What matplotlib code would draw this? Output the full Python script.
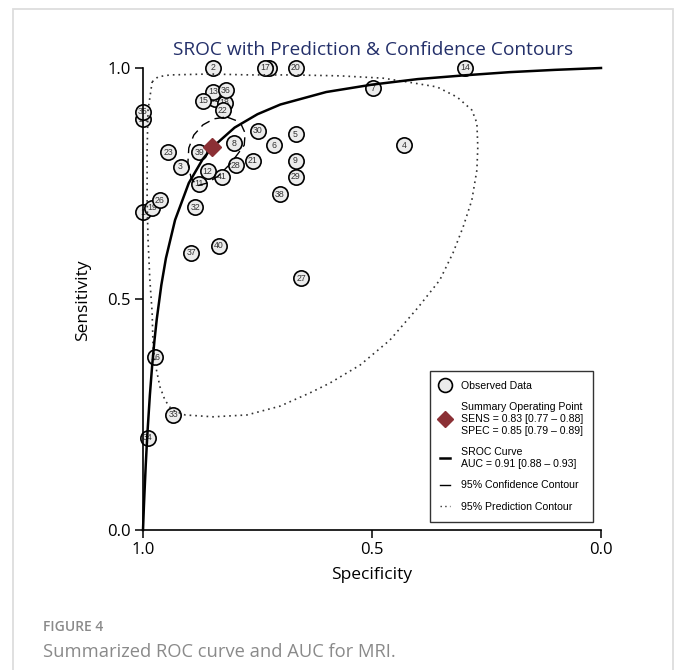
import matplotlib.pyplot as plt
from matplotlib.lines import Line2D
from matplotlib.patches import Rectangle

# Study-level estimates (specificity, sensitivity) with study number,
# listed back to front so overlapping circles stack the same way
study_ids = ['10', '31', '18', '24', '1', '2', '17', '20', '14', '7', '13', '36', '15',
             '22', '35', '30', '5', '8', '6', '4', '23', '39', '21', '9', '3',
             '28', '12', '41', '29', '11', '38', '19', '26', '32', '40',
             '37', '27', '16', '33', '34']
study_spec = [0.724, 0.843, 0.822, 1.0, 1.0, 0.848, 0.734, 0.667, 0.297, 0.498, 0.847,
              0.819, 0.868, 0.826, 1.0, 0.750, 0.667, 0.801, 0.714, 0.430, 0.945,
              0.877, 0.760, 0.667, 0.918, 0.798, 0.859, 0.827, 0.667, 0.877, 0.701,
              0.980, 0.963, 0.886, 0.835, 0.895, 0.654, 0.974, 0.934, 0.990]
study_sens = [1.0, 0.932, 0.925, 0.889, 0.688, 1.0, 1.0, 1.0, 1.0, 0.956, 0.949,
              0.952, 0.929, 0.909, 0.905, 0.864, 0.857, 0.837, 0.833, 0.833, 0.818,
              0.818, 0.799, 0.799, 0.786, 0.789, 0.777, 0.765, 0.765, 0.750, 0.727,
              0.698, 0.714, 0.699, 0.615, 0.600, 0.545, 0.374, 0.250, 0.200]

# Summary operating point
summary_spec = 0.85
summary_sens = 0.83

# SROC curve
sroc_spec = [1.0, 0.999, 0.998, 0.997, 0.994, 0.992, 0.99, 0.985, 0.98, 0.975,
             0.97, 0.96, 0.95, 0.93, 0.9, 0.87, 0.85, 0.8, 0.75, 0.7,
             0.6, 0.5, 0.4, 0.3, 0.2, 0.1, 0.0]
sroc_sens = [0.0, 0.026, 0.052, 0.075, 0.141, 0.179, 0.215, 0.292, 0.356, 0.410,
             0.456, 0.530, 0.588, 0.671, 0.751, 0.802, 0.827, 0.871, 0.900, 0.921,
             0.948, 0.964, 0.976, 0.984, 0.991, 0.996, 1.0]

# 95% confidence contour
conf_spec = [0.817, 0.788, 0.777, 0.779, 0.793, 0.810, 0.836, 0.860, 0.882, 0.895,
             0.902, 0.900, 0.889, 0.869, 0.845, 0.817]
conf_sens = [0.894, 0.883, 0.859, 0.833, 0.814, 0.792, 0.766, 0.751, 0.745, 0.762,
             0.794, 0.827, 0.855, 0.877, 0.890, 0.894]

# 95% prediction contour
pred_spec = [0.980, 0.967, 0.941, 0.854, 0.766, 0.672, 0.570, 0.476, 0.424, 0.358,
             0.314, 0.282, 0.271, 0.269, 0.271, 0.282, 0.301, 0.323, 0.352, 0.400,
             0.461, 0.526, 0.592, 0.635, 0.701, 0.773, 0.847, 0.908, 0.937, 0.952,
             0.963, 0.972, 0.978, 0.980, 0.985, 0.989, 0.991, 0.991, 0.989, 0.980]
pred_sens = [0.970, 0.981, 0.985, 0.987, 0.985, 0.985, 0.983, 0.978, 0.970, 0.959,
             0.937, 0.909, 0.881, 0.829, 0.779, 0.714, 0.656, 0.600, 0.541, 0.481,
             0.411, 0.357, 0.318, 0.297, 0.268, 0.249, 0.245, 0.249, 0.260, 0.281,
             0.310, 0.353, 0.396, 0.470, 0.541, 0.628, 0.714, 0.823, 0.909, 0.970]

ticks = [1.0, 0.5, 0.0]
tick_labels = ['1.0', '0.5', '0.0']

W, H = 677, 670
fig = plt.figure(figsize=(W / 100, H / 100), dpi=100)
ax = fig.add_axes([143 / W, 140 / H, 458 / W, 462 / H])

# panel frame
fig.patches.append(Rectangle((13 / W, -0.1), (673 - 13) / W, (H - 9) / H + 0.1,
                             transform=fig.transFigure, fill=False,
                             edgecolor='#dddddd', lw=1.3))

ax.plot(pred_spec, pred_sens, color='#333333', lw=1.2, linestyle=(0, (1, 2.4)),
        zorder=4, clip_on=False)
ax.plot(conf_spec, conf_sens, color='black', lw=1.0, linestyle=(0, (7, 4)), zorder=4)

# each study circle drawn with its own number so later ones cover earlier ones
for i, (lab, x, y) in enumerate(zip(study_ids, study_spec, study_sens)):
    z = 3 + i * 0.01
    ax.plot([x], [y], marker='o', markersize=11, markerfacecolor='#ececec',
            markeredgecolor='black', markeredgewidth=1.2, linestyle='none',
            zorder=z, clip_on=False)
    ax.text(x, y, lab, fontsize=6.3, ha='center', va='center', color='#333333',
            family='Liberation Sans', zorder=z + 0.005, clip_on=False)

ax.plot(sroc_spec, sroc_sens, color='black', lw=1.8, zorder=5, clip_on=False)
ax.plot([summary_spec], [summary_sens], marker='D', markersize=9, color='#8b3035',
        linestyle='none', zorder=6)

ax.set_xlim(1.0, 0.0)
ax.set_ylim(0.0, 1.0)
ax.set_xticks(ticks)
ax.set_xticklabels(tick_labels)
ax.set_yticks(ticks)
ax.set_yticklabels(tick_labels)
ax.tick_params(length=6, width=1.1, pad=3, labelsize=12)
for lab in ax.get_xticklabels() + ax.get_yticklabels():
    lab.set_family('Open Sans')
for side in ['top', 'right']:
    ax.spines[side].set_visible(False)
for side in ['left', 'bottom']:
    ax.spines[side].set_linewidth(1.2)
    ax.spines[side].set_zorder(5)
ax.set_facecolor('none')

fig.text(373 / W, 1 - 50 / H, 'SROC with Prediction & Confidence Contours',
         fontsize=13.8, color='#24306a', ha='center', va='center', family='Open Sans')
fig.text(372 / W, 1 - 575 / H, 'Specificity', fontsize=12.5, ha='center',
         va='center', family='Open Sans')
fig.text(83 / W, 1 - 300 / H, 'Sensitivity', fontsize=12.5, ha='center',
         va='center', rotation=90, family='Open Sans')

handles = [
    Line2D([], [], marker='o', markersize=10, markerfacecolor='#ececec',
           markeredgecolor='black', markeredgewidth=1.2, linestyle='none'),
    Line2D([], [], marker='D', markersize=8, color='#8b3035', linestyle='none'),
    Line2D([], [], color='black', lw=1.8),
    Line2D([], [], color='black', lw=1.0),
    Line2D([], [], color='#333333', lw=1.0, linestyle=(0, (1, 2.4))),
]
labels = [
    'Observed Data',
    'Summary Operating Point\nSENS = 0.83 [0.77 \u2013 0.88]\nSPEC = 0.85 [0.79 \u2013 0.89]',
    'SROC Curve\nAUC = 0.91 [0.88 \u2013 0.93]',
    '95% Confidence Contour',
    '95% Prediction Contour',
]
leg = ax.legend(handles, labels, loc='lower right',
                bbox_to_anchor=(593 / W, 1 - 522 / H), bbox_transform=fig.transFigure,
                prop={'family': 'Liberation Sans', 'size': 7.6}, frameon=True,
                fancybox=False, edgecolor='black', handlelength=1.0,
                handletextpad=1.0, labelspacing=1.1, borderpad=0.95,
                borderaxespad=0)
leg.get_frame().set_linewidth(1.0)

fig.text(43 / W, 1 - 627 / H, 'FIGURE 4', fontsize=10, color='#8a8a8a',
         fontweight='semibold', ha='left', va='center', family='Open Sans')
fig.text(43 / W, 1 - 652 / H, 'Summarized ROC curve and AUC for MRI.', fontsize=13.2,
         color='#8a8a8a', ha='left', va='center', family='Open Sans')

fig.savefig('out.png', dpi=100)
